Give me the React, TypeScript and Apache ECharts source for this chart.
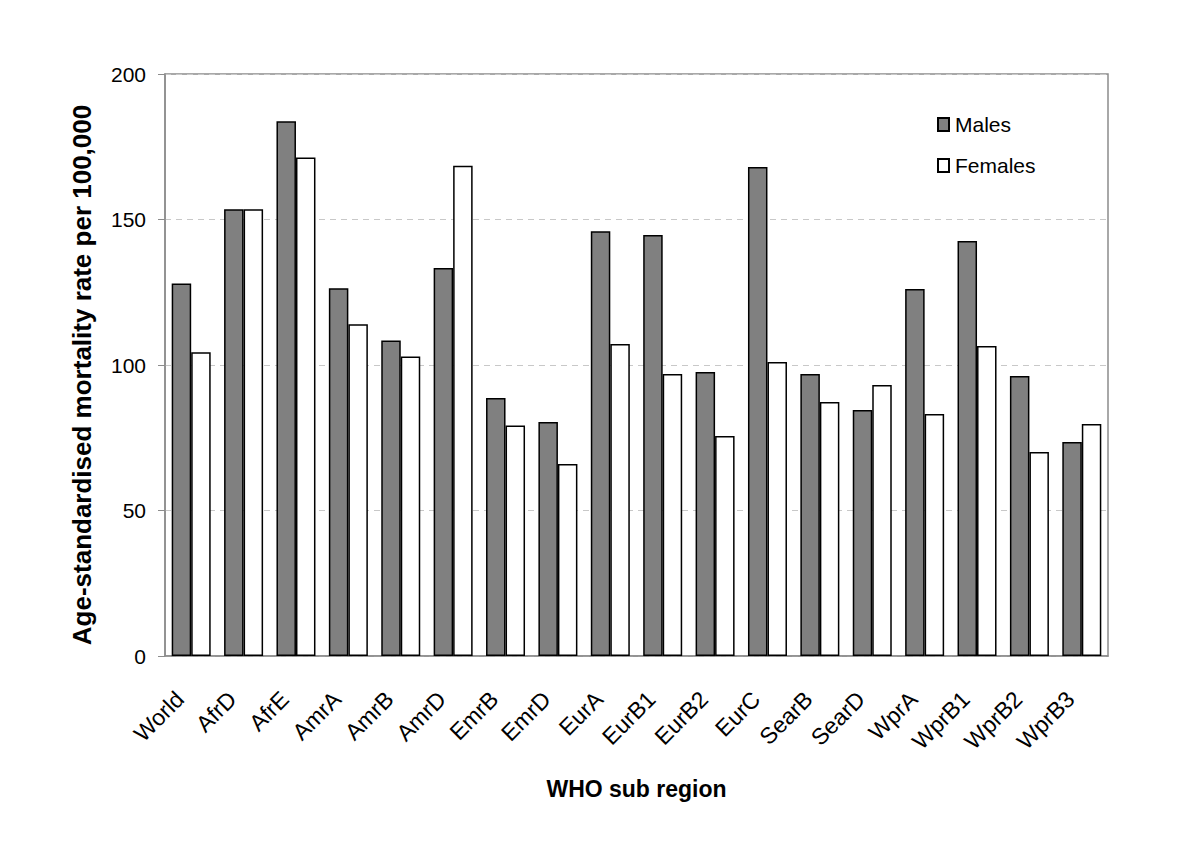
import React, { useEffect, useRef } from "react";
import * as echarts from "echarts";

const categories = ["World","AfrD","AfrE","AmrA","AmrB","AmrD","EmrB","EmrD","EurA","EurB1","EurB2","EurC","SearB","SearD","WprA","WprB1","WprB2","WprB3"];
const males = [128, 153.5, 183.8, 126.4, 108.4, 133.3, 88.7, 80.4, 146, 144.7, 97.6, 168, 96.9, 84.5, 126.1, 142.6, 96.2, 73.5];
const females = [104.4, 153.5, 171.3, 114, 102.9, 168.5, 79.2, 66, 107.2, 96.9, 75.6, 101, 87.3, 93.1, 83.2, 106.5, 70.1, 79.7];
const yTicks = [0, 50, 100, 150, 200];

const FONT = "Liberation Sans";

export default function App() {
  const ref = useRef<HTMLDivElement>(null);
  useEffect(() => {
    if (!ref.current) return;
    const chart = echarts.init(ref.current, undefined, { renderer: "svg" });
    chart.setOption({
      animation: false,
      backgroundColor: "#ffffff",
      textStyle: { fontFamily: FONT },
      grid: {
        left: 157, right: 77, top: 66, bottom: 179,
        show: true, borderColor: "#8c8c8c", borderWidth: 1.5,
        containLabel: false,
      },
      legend: {
        orient: "vertical",
        left: 924, top: 101,
        itemWidth: 11, itemHeight: 13, itemGap: 20,
        icon: "rect",
        textStyle: { fontFamily: FONT, fontSize: 21, color: "#000", padding: [0, 0, 0, 1] },
        data: ["Males", "Females"],
      },
      xAxis: {
        type: "category",
        data: categories,
        name: "WHO sub region",
        nameLocation: "middle",
        nameGap: 121,
        nameTextStyle: { fontFamily: FONT, fontSize: 23, fontWeight: "bold", color: "#000" },
        axisLine: { show: true, lineStyle: { color: "#8c8c8c", width: 1.5 } },
        axisTick: { show: false },
        axisLabel: {
          rotate: 45, fontSize: 23, color: "#000", fontFamily: FONT, margin: 28, interval: 0,
          padding: [0, 16, 0, 0],
        },
        splitLine: { show: false },
      },
      yAxis: {
        type: "value",
        min: 0, max: 200, interval: 50,
        name: "Age-standardised mortality rate per 100,000",
        nameLocation: "middle",
        nameGap: 70,
        nameTextStyle: {
          fontFamily: FONT, fontSize: 26, fontWeight: "bold", color: "#000",
          padding: [0, 20, 0, 0],
        },
        axisLine: { show: true, lineStyle: { color: "#8c8c8c", width: 1.5 } },
        axisTick: { show: true, inside: false, length: 7, lineStyle: { color: "#8c8c8c", width: 1 } },
        axisLabel: {
          fontSize: 21, color: "#000", fontFamily: FONT, margin: 19,
          formatter: (v: number) => (yTicks.includes(v) ? String(v) : ""),
        },
        splitLine: { show: true, lineStyle: { color: "#c8c8c8", type: [6, 5], width: 1 } },
      },
      series: [
        {
          name: "Males", type: "bar", data: males,
          barWidth: 19.5, barGap: "0%",
          itemStyle: { color: "#808080", borderColor: "#000", borderWidth: 1.5 },
        },
        {
          name: "Females", type: "bar", data: females,
          barWidth: 19.5, barGap: "0%",
          itemStyle: { color: "#ffffff", borderColor: "#000", borderWidth: 1.5 },
        },
      ],
    });
    return () => chart.dispose();
  }, []);
  return <div ref={ref} style={{ width: 1177, height: 827 }} />;
}
